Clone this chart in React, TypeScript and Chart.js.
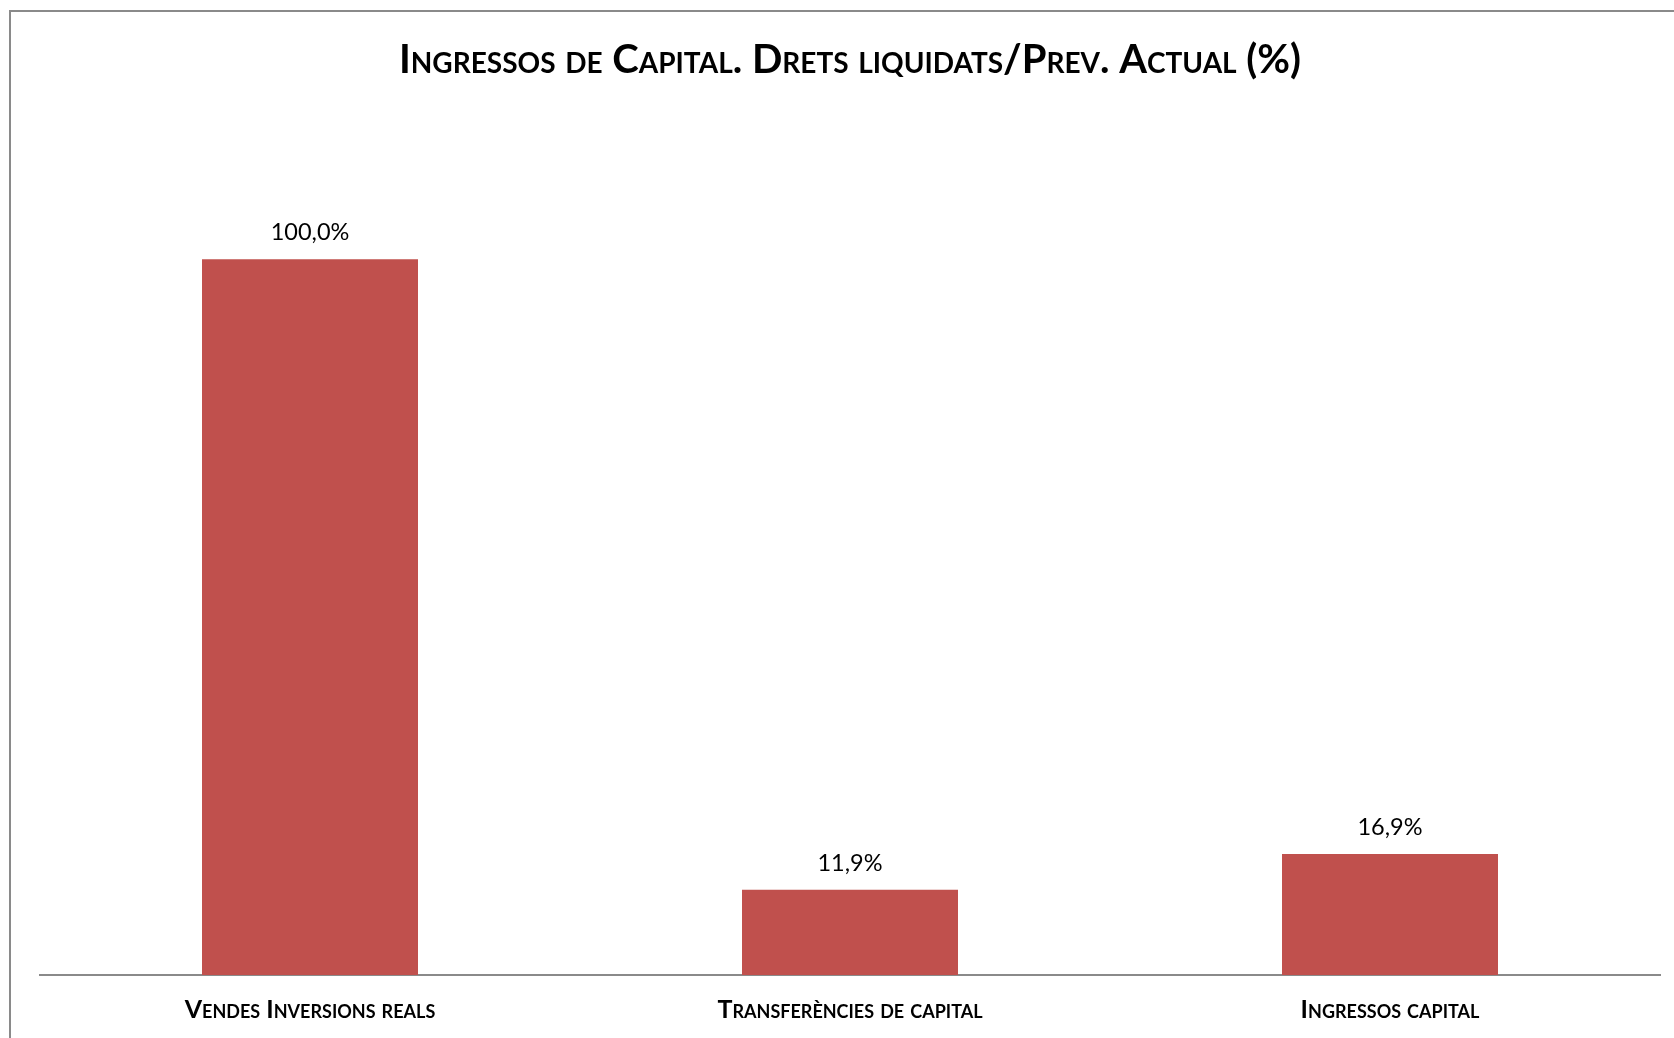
import React, { useEffect, useRef } from "react";
import { Chart, registerables } from "chart.js";

Chart.register(...registerables);

const categories = ["Vendes Inversions reals", "Transferències de capital", "Ingressos capital"];
const values = [100.0, 11.9, 16.9];
const titleText = "Ingressos de Capital. Drets liquidats/Prev. Actual (%)";
const barColor = "#C0504D";
const FONT = "Lato, 'Open Sans', sans-serif";

const fmt = (v: number) => v.toFixed(1).replace(".", ",") + "%";

const framePlugin = {
  id: "frame",
  beforeDraw(chart: any) {
    const ctx = chart.ctx;
    ctx.save();
    ctx.fillStyle = "#ffffff";
    ctx.fillRect(0, 0, chart.width, chart.height);
    ctx.strokeStyle = "#8a8a8a";
    ctx.lineWidth = 2;
    ctx.beginPath();
    ctx.moveTo(10, chart.height);
    ctx.lineTo(10, 11);
    ctx.lineTo(chart.width, 11);
    ctx.stroke();
    ctx.restore();
  },
};

const labelPlugin = {
  id: "valueLabels",
  afterDatasetsDraw(chart: any) {
    const ctx = chart.ctx;
    const meta = chart.getDatasetMeta(0);
    ctx.save();
    ctx.font = `23.5px ${FONT}`;
    ctx.fillStyle = "#000000";
    ctx.textAlign = "center";
    ctx.textBaseline = "alphabetic";
    meta.data.forEach((bar: any, i: number) => {
      ctx.fillText(fmt(values[i]), bar.x, bar.y - 19);
    });
    ctx.restore();
  },
};

export default function App() {
  const ref = useRef<HTMLCanvasElement | null>(null);
  useEffect(() => {
    if (!ref.current) return;
    const chart = new Chart(ref.current, {
      type: "bar",
      data: {
        labels: categories,
        datasets: [
          {
            data: values,
            backgroundColor: barColor,
            borderWidth: 0,
            barPercentage: 0.4,
            categoryPercentage: 1,
          },
        ],
      },
      options: {
        animation: false,
        responsive: false,
        devicePixelRatio: 1,
        layout: { padding: { left: 40, right: 14, top: 0, bottom: 13 } },
        plugins: {
          legend: { display: false },
          tooltip: { enabled: false },
          title: {
            display: true,
            text: titleText,
            color: "#000000",
            font: { family: FONT, size: 40, weight: "small-caps bold" as any },
            padding: { top: 36, bottom: 32 },
          },
        },
        scales: {
          x: {
            grid: { display: false, drawTicks: false },
            border: { display: true, color: "#8a8a8a", width: 2 },
            ticks: {
              color: "#000000",
              padding: 20,
              maxRotation: 0,
              autoSkip: false,
              font: { family: FONT, size: 25, weight: "small-caps bold" as any },
            },
            afterFit(scale: any) {
              scale.height = 50;
            },
          },
          y: {
            display: false,
            min: 0,
            max: 120,
          },
        },
      },
      plugins: [framePlugin, labelPlugin],
    });
    return () => chart.destroy();
  }, []);
  return (
    <div style={{ position: "fixed", left: 0, top: 0, width: 1674, height: 1038 }}>
      <canvas ref={ref} width={1674} height={1038} />
    </div>
  );
}
